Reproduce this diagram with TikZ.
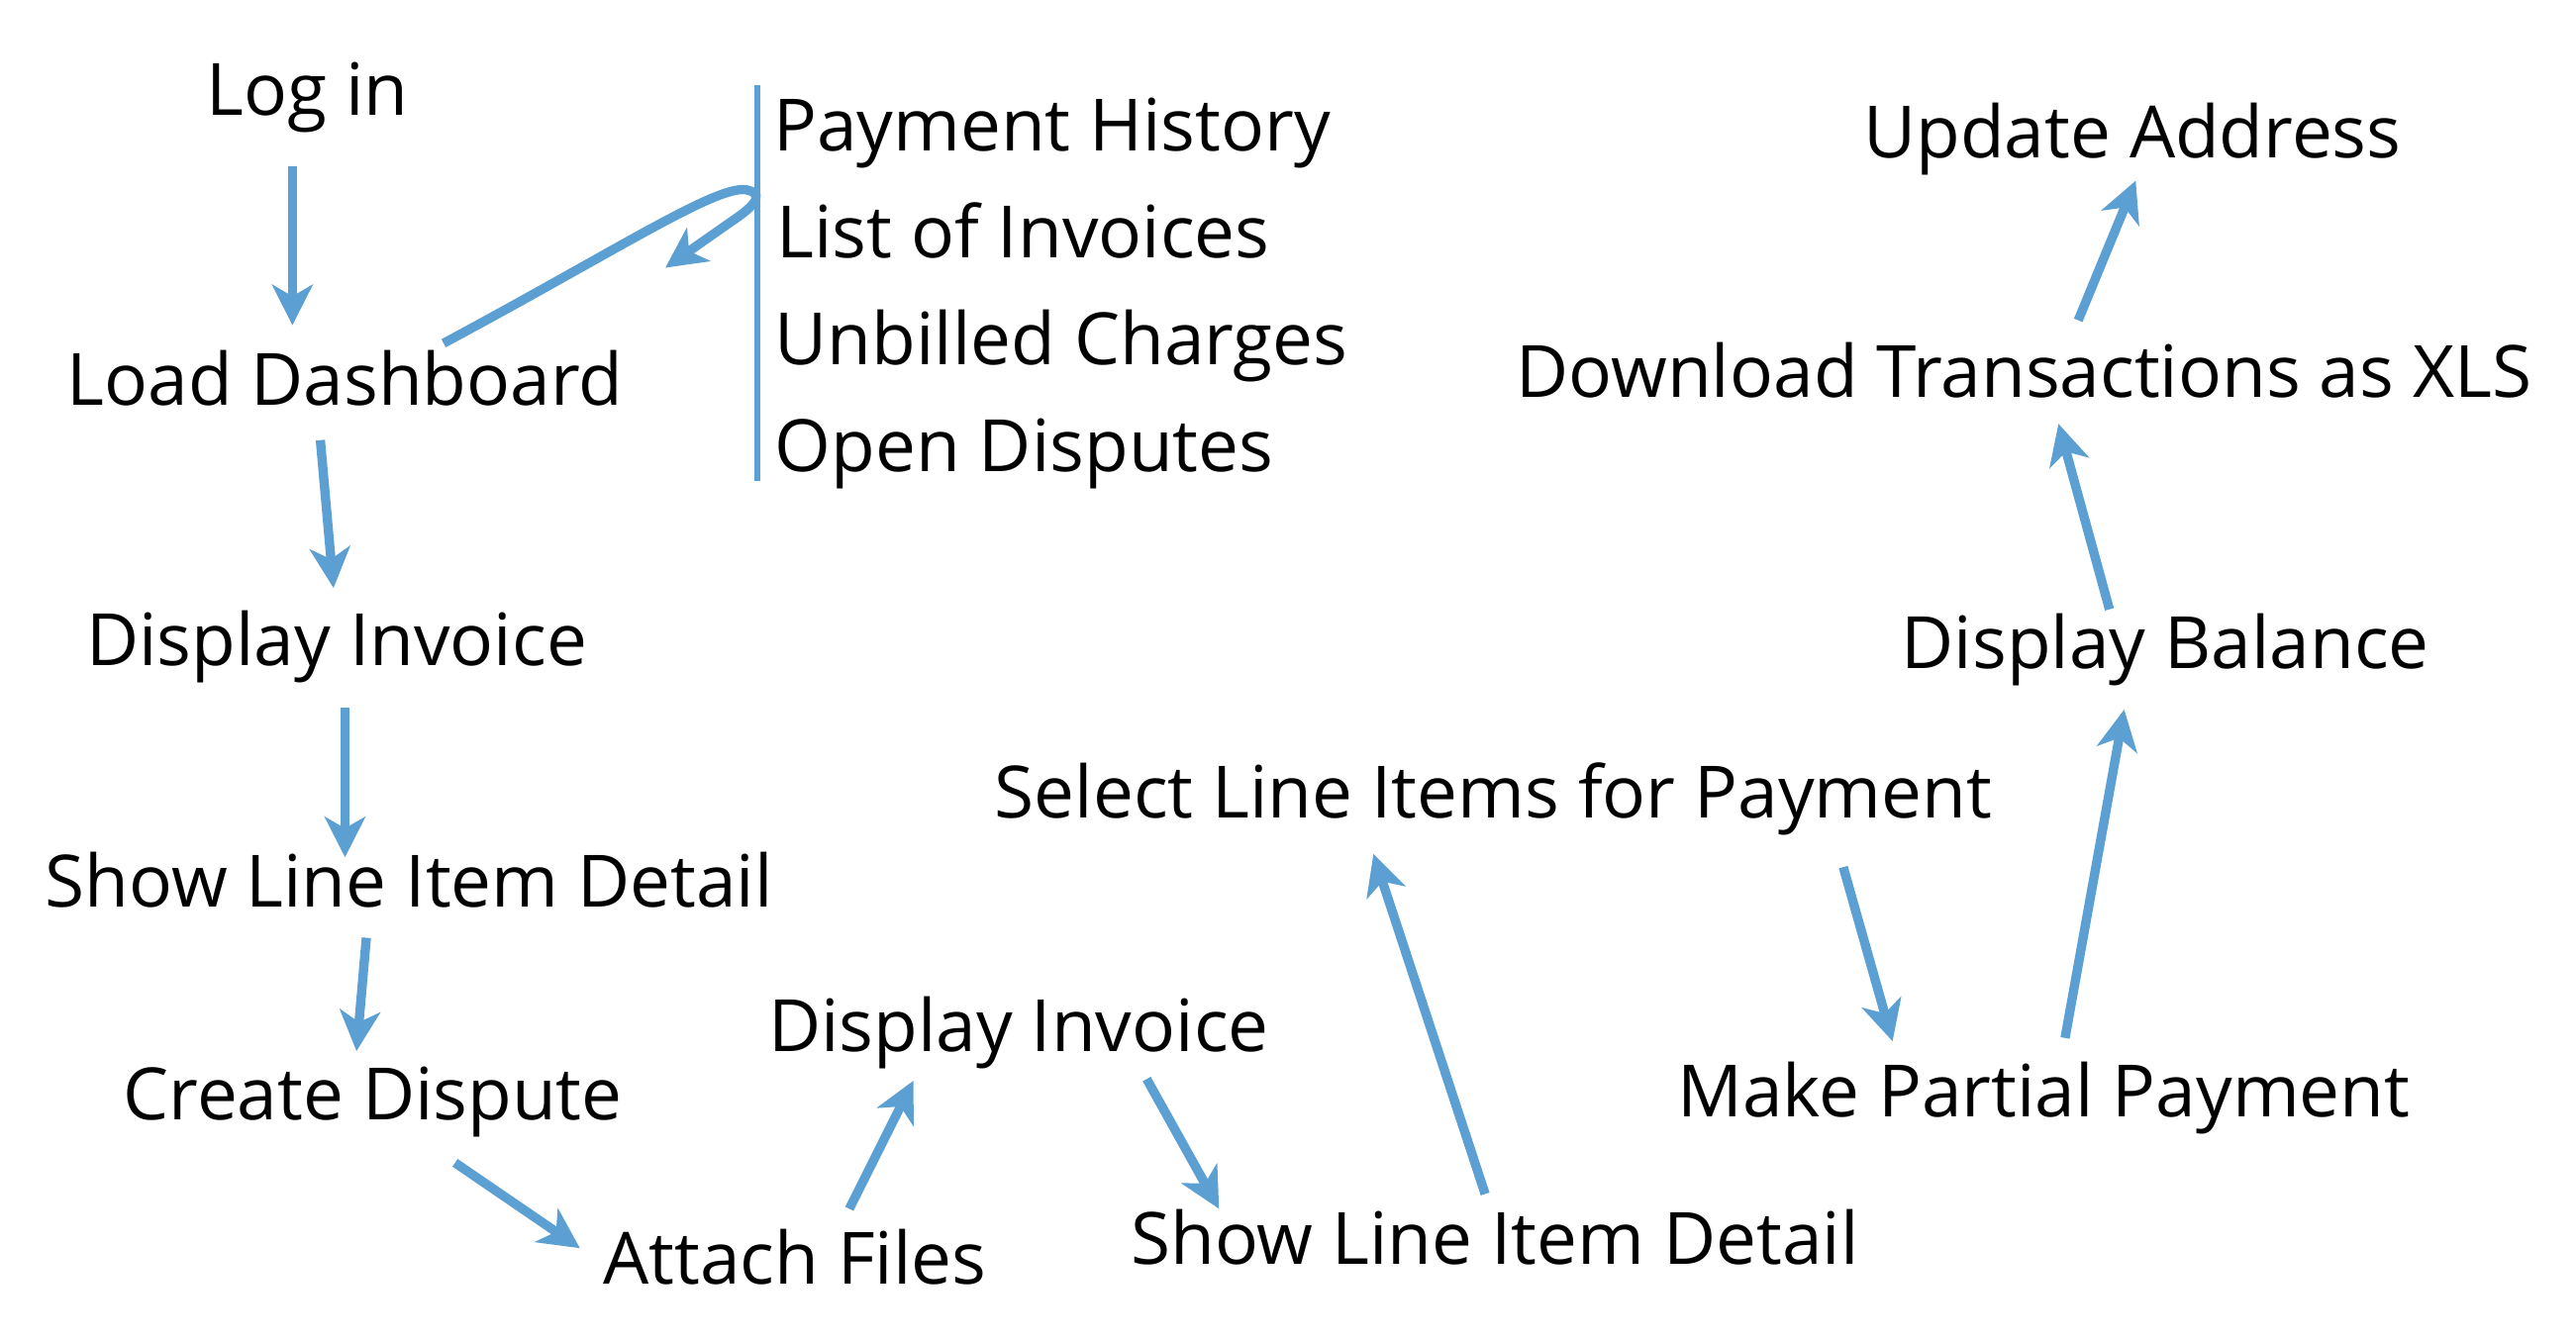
\documentclass[tikz,border=0pt]{standalone}
\usepackage{fontspec}
\setmainfont{Open Sans}
\usetikzlibrary{arrows.meta}
\definecolor{flowblue}{RGB}{91,159,211}
\tikzset{
	step label/.style={anchor=base, inner sep=0pt, font=\fontsize{12.5}{15}\selectfont},
	item label/.style={step label, anchor=base west},
	flow/.style={draw=flowblue, line width=1.6pt, -{Stealth[length=7pt, width=7pt, inset=2pt]}}
}
\begin{document}
\begin{tikzpicture}[x=.01cm, y=-.01cm]
		\useasboundingbox (0,0) rectangle (1568,817);
		% left column
		\node[step label] (login) at (187,70) {Log in};
		\node[step label] (dash) at (210,247) {Load Dashboard};
		\node[step label] (inv1) at (205,405) {Display Invoice};
		\node[step label] (detail1) at (249,552) {Show Line Item Detail};
		\node[step label] (dispute) at (227,682) {Create Dispute};
		% dashboard panels
		\node[item label] (hist) at (470,92) {Payment History};
		\node[item label] (list) at (472,157) {List of Invoices};
		\node[item label] (unbilled) at (471,222) {Unbilled Charges};
		\node[item label] (open) at (471,287) {Open Disputes};
		\draw[flowblue, line width=1pt] (461,52) -- (461,293);
		% bottom and right
		\node[step label] (attach) at (484,782) {Attach Files};
		\node[step label] (inv2) at (620,640) {Display Invoice};
		\node[step label] (detail2) at (910,770) {Show Line Item Detail};
		\node[step label] (select) at (909,498) {Select Line Items for Payment};
		\node[step label] (partial) at (1244,680) {Make Partial Payment};
		\node[step label] (balance) at (1318,407) {Display Balance};
		\node[step label] (xls) at (1232,242) {Download Transactions as XLS};
		\node[step label] (address) at (1298,96) {Update Address};
		% connectors
		\draw[flow] ([shift={(-9,31)}]login.base) -- ([shift={(-32,-49)}]dash.base);
		\draw[flow] ([shift={(60,-38)}]dash.base) .. controls +(110,-59) and +(-16,-6) .. ([shift={(-16,-41)}]list.base west)
			.. controls +(10,3) and +(12,-8) .. ([shift={(-27,-22)}]list.base west) -- ([shift={(-67,6)}]list.base west);
		\draw[flow] ([shift={(-15,21)}]dash.base) -- ([shift={(-2,-47)}]inv1.base);
		\draw[flow] ([shift={(5,26)}]inv1.base) -- ([shift={(-39,-30)}]detail1.base);
		\draw[flow] ([shift={(-26,19)}]detail1.base) -- ([shift={(-10,-42)}]dispute.base);
		\draw[flow] ([shift={(50,26)}]dispute.base) -- ([shift={(-131,-22)}]attach.base);
		\draw[flow] ([shift={(33,-46)}]attach.base) -- ([shift={(-64,18)}]inv2.base);
		\draw[flow] ([shift={(78,17)}]inv2.base) -- ([shift={(-168,-34)}]detail2.base);
		\draw[flow] ([shift={(-6,-43)}]detail2.base) -- ([shift={(-73,22)}]select.base);
		\draw[flow] ([shift={(213,30)}]select.base) -- ([shift={(-92,-46)}]partial.base);
		\draw[flow] ([shift={(13,-48)}]partial.base) -- ([shift={(-25,25)}]balance.base);
		\draw[flow] ([shift={(-34,-36)}]balance.base) -- ([shift={(21,16)}]xls.base);
		\draw[flow] ([shift={(33,-47)}]xls.base) -- ([shift={(2,14)}]address.base);
	\end{tikzpicture}
\end{document}
